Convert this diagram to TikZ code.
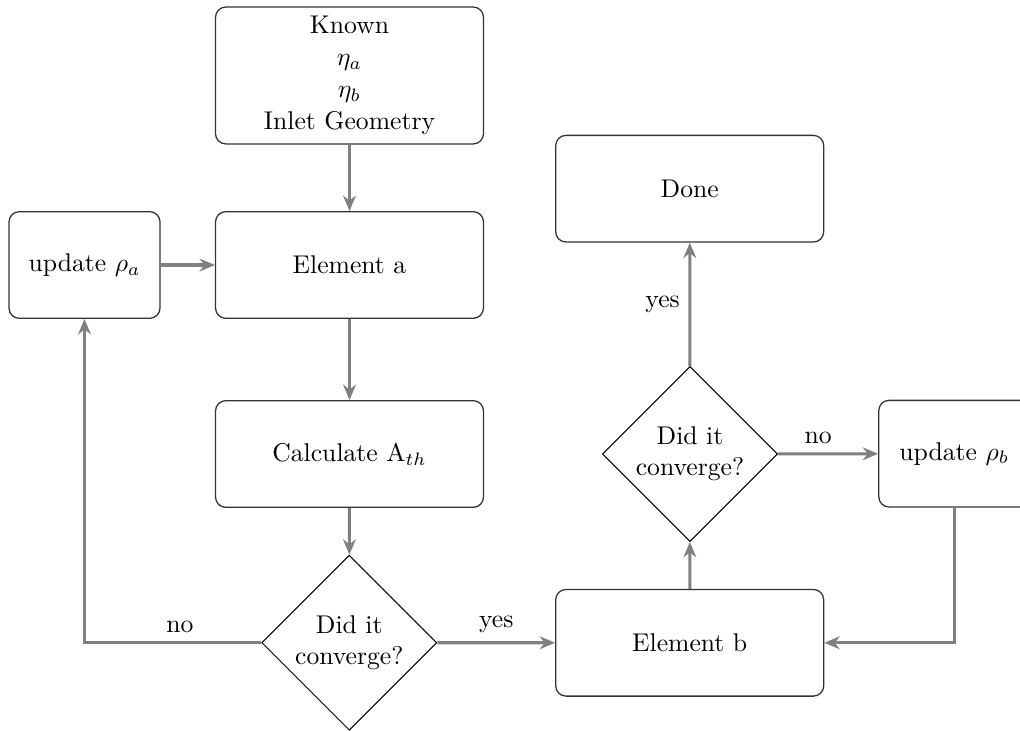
\documentclass[tikz,border=0pt]{standalone}
\usetikzlibrary{shapes.geometric,arrows.meta}
\begin{document}
\begin{tikzpicture}[x=0.39pt,y=-0.39pt,
  box/.style={draw=black!80, rounded corners=4pt, line width=0.5pt,
    minimum width=104.5pt, minimum height=41.6pt, align=center},
  smallbox/.style={box, minimum width=58.9pt},
  decision/.style={diamond, aspect=1, draw=black, line width=0.4pt,
    inner sep=0pt, minimum width=68.3pt, minimum height=68.3pt, align=center},
  flow/.style={draw=gray, line width=1.2pt, -{Stealth[length=6pt,width=5pt]}}]
\useasboundingbox (0,0) rectangle (1020,731);

% blocks of the iteration
\node[box, minimum height=53.4pt] (known) at (349.5,75.5)
  {Known\\[0.4pt]$\eta_a$\\[0.4pt]$\eta_b$\\[0.4pt]Inlet Geometry};
\node[box] (ela) at (349.5,265) {Element a};
\node[smallbox] (upa) at (84.5,265) {update $\rho_a$};
\node[box] (calc) at (349.5,454) {Calculate A$_{th}$};
\node[decision] (dec1) at (349.3,642.7) {Did it\\converge?};
\node[box] (elb) at (689.7,642.8) {Element b};
\node[decision] (dec2) at (690,454) {Did it\\converge?};
\node[box] (done) at (689.7,188.7) {Done};
\node[smallbox] (upb) at (954.3,453.7) {update $\rho_b$};

% connectors
\draw[flow] (known) -- (ela);
\draw[flow] (upa) -- (ela);
\draw[flow] (ela) -- (calc);
\draw[flow] (calc) -- (dec1);
\draw[flow] (dec1.west) -| node[pos=0.23, above] {no} (upa.south);
\draw[flow] (dec1) -- node[above] {yes} (elb);
\draw[flow] (elb) -- (dec2);
\draw[flow] (dec2) -- node[left] {yes} (done);
\draw[flow] (dec2) -- node[pos=0.4, above] {no} (upb);
\draw[flow] (upb.south) |- (elb.east);
\end{tikzpicture}
\end{document}
